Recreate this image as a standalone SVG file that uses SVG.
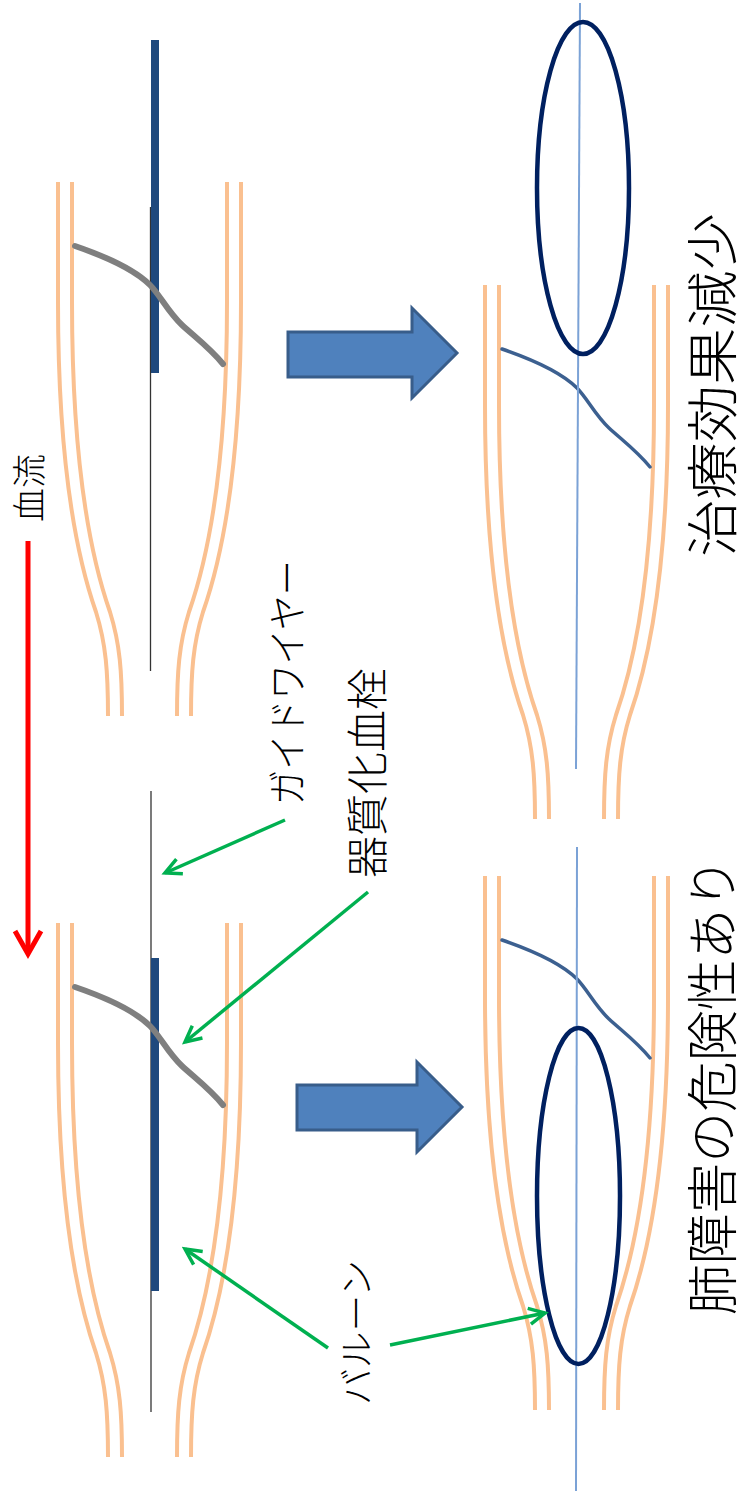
<svg xmlns="http://www.w3.org/2000/svg" xmlns:xlink="http://www.w3.org/1999/xlink" width="748" height="1499" viewBox="0 0 748 1499">
  <style>
    .wall { fill: none; stroke: #FAC090; stroke-width: 4; }
    .clot { fill: none; stroke: #7F7F7F; stroke-width: 6; stroke-linecap: round; }
    .clot-after { fill: none; stroke: #3C6090; stroke-width: 3.5; stroke-linecap: round; }
    .cath { fill: #1F497D; }
    .wire { stroke: #333333; stroke-width: 1.3; }
    .wire-after { stroke: #7BA2D6; stroke-width: 2; }
    .balloon { fill: none; stroke: #002060; stroke-width: 4.5; }
    .block { fill: #4F81BD; stroke: #385D8A; stroke-width: 3; stroke-linejoin: miter; }
    .lead { fill: none; stroke: #00B050; stroke-width: 3.5; marker-end: url(#open); }
    .flow { fill: none; stroke: #FF0000; stroke-width: 5; }
    .lbl { font-family: "Noto Sans CJK JP", "Noto Sans CJK SC", sans-serif; font-weight: 300; fill: #000000; }
  </style>
  <defs>
    <!-- left outer vessel wall, drawn from the panel's top edge -->
    <path id="wall" d="M58,0 L58,120 C58,300 82,390 96,430 C106,462 108,490 108,534"/>
    <!-- thrombus strand across the lumen -->
    <path id="strand" d="M75,64 C110,76 135,88 150,103 C160,113 168,130 182,143 C195,155 210,166 223,182"/>
    <g id="vessel" class="wall">
      <use xlink:href="#wall"/>
      <use xlink:href="#wall" transform="translate(14,0)"/>
      <use xlink:href="#wall" transform="translate(285,0) scale(-1,1)"/>
      <use xlink:href="#wall" transform="translate(299,0) scale(-1,1)"/>
    </g>
    <marker id="open" viewBox="-20 -12 24 24" markerWidth="24" markerHeight="24" refX="0" refY="0" markerUnits="userSpaceOnUse" orient="auto">
      <path d="M-16,-8 L0,0 L-16,8" fill="none" stroke="#00B050" stroke-width="3.5" stroke-linejoin="miter"/>
    </marker>
  </defs>

  <!-- blood flow direction -->
  <g id="flow">
    <line class="flow" x1="28" y1="541" x2="28" y2="952"/>
    <polyline class="flow" points="15,931 28,954 41,931"/>
    <text class="lbl" font-size="34" textLength="68" lengthAdjust="spacingAndGlyphs" transform="translate(42,522) rotate(-90)">血流</text>
  </g>

  <!-- before: catheter over the wire, upper panel -->
  <g id="panel-before-top" transform="translate(0,182)">
    <use xlink:href="#vessel"/>
    <line class="wire" x1="150.5" y1="25" x2="150.5" y2="489"/>
    <rect class="cath" x="151" y="-142" width="8" height="333"/>
    <use xlink:href="#strand" class="clot"/>
  </g>

  <!-- before: catheter over the wire, lower panel -->
  <g id="panel-before-bottom" transform="translate(0,923)">
    <use xlink:href="#vessel"/>
    <line class="wire" x1="151" y1="-132" x2="151" y2="489"/>
    <rect class="cath" x="151" y="35" width="8" height="333"/>
    <use xlink:href="#strand" class="clot"/>
  </g>

  <!-- after: balloon inflated beyond the clot -->
  <g id="panel-after-top">
    <g transform="translate(427,285)">
      <use xlink:href="#vessel"/>
      <use xlink:href="#strand" class="clot-after"/>
    </g>
    <line class="wire-after" x1="580" y1="3" x2="576" y2="769"/>
    <ellipse class="balloon" cx="583" cy="188" rx="46" ry="166"/>
  </g>

  <!-- after: balloon inflated in the stenosis -->
  <g id="panel-after-bottom">
    <g transform="translate(427,876)">
      <use xlink:href="#vessel"/>
      <use xlink:href="#strand" class="clot-after"/>
    </g>
    <line class="wire-after" x1="577" y1="847" x2="576" y2="1491"/>
    <ellipse class="balloon" cx="578.5" cy="1196" rx="41.5" ry="168"/>
  </g>

  <!-- block arrows between stages -->
  <g id="step-top">
    <polygon class="block" points="288,332 412,332 412,308 457,353 412,398 412,377 288,377"/>
  </g>
  <g id="step-bottom">
    <polygon class="block" points="297,1085 417,1085 417,1062 462,1107 417,1152 417,1130 297,1130"/>
  </g>

  <!-- labels -->
  <g id="label-guidewire">
    <text class="lbl" font-size="40" textLength="245" lengthAdjust="spacingAndGlyphs" transform="translate(302,805) rotate(-90)">ガイドワイヤー</text>
  </g>
  <g id="label-thrombus">
    <text class="lbl" font-size="42" textLength="210" lengthAdjust="spacingAndGlyphs" transform="translate(383,878) rotate(-90)">器質化血栓</text>
  </g>
  <g id="label-balloon">
    <text class="lbl" font-size="36" textLength="145" lengthAdjust="spacingAndGlyphs" transform="translate(370,1405) rotate(-90)">バルーン</text>
  </g>
  <g id="label-result-top">
    <text class="lbl" font-size="52" textLength="344" lengthAdjust="spacingAndGlyphs" transform="translate(732,557) rotate(-90)">治療効果減少</text>
  </g>
  <g id="label-result-bottom">
    <text class="lbl" font-size="52" textLength="457" lengthAdjust="spacingAndGlyphs" transform="translate(732,1315) rotate(-90)">肺障害の危険性あり</text>
  </g>

  <!-- leader arrows -->
  <g id="leaders">
    <line class="lead" x1="285" y1="820" x2="165" y2="873"/>
    <line class="lead" x1="368" y1="892" x2="185" y2="1042"/>
    <line class="lead" x1="328" y1="1348" x2="185" y2="1249"/>
    <line class="lead" x1="390" y1="1345" x2="545" y2="1313"/>
  </g>
</svg>
